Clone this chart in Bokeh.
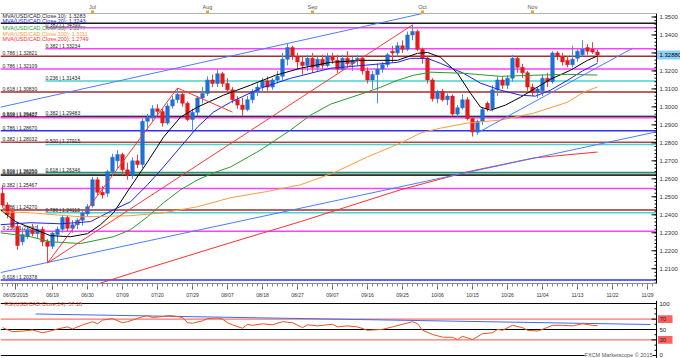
from bokeh.plotting import figure
from bokeh.models import (Range1d, LinearAxis, FixedTicker, ColumnDataSource, Label)
from bokeh.layouts import column
from bokeh.embed import file_html
from bokeh.resources import INLINE
from bokeh.core.properties import value

# ---------------- data ----------------
opens = [1.2520,1.2455,1.2420,1.2335,1.2250,1.2280,1.2315,1.2295,1.2320,1.2250,
         1.2225,1.2290,1.2320,1.2385,1.2325,1.2345,1.2370,1.2405,1.2450,1.2595,
         1.2525,1.2520,1.2640,1.2700,1.2735,1.2650,1.2620,1.2700,1.2680,1.2920,
         1.2940,1.2990,1.2975,1.2910,1.3005,1.3040,1.3070,1.3020,1.2930,1.2970,
         1.3050,1.3075,1.3150,1.3130,1.3185,1.3130,1.3095,1.3040,1.3010,1.2985,
         1.3040,1.3085,1.3110,1.3145,1.3110,1.3150,1.3170,1.3265,1.3330,1.3280,
         1.3250,1.3230,1.3270,1.3220,1.3265,1.3230,1.3280,1.3260,1.3210,1.3270,
         1.3240,1.3260,1.3270,1.3200,1.3150,1.3180,1.3210,1.3235,1.3310,1.3300,
         1.3340,1.3320,1.3400,1.3420,1.3320,1.3270,1.3150,1.3045,1.3085,1.3040,
         1.3060,1.2960,1.2995,1.3040,1.2935,1.2860,1.2920,1.3020,1.2990,1.3095,
         1.3150,1.3120,1.3160,1.3270,1.3220,1.3190,1.3110,1.3080,1.3090,1.3160,
         1.3140,1.3300,1.3280,1.3260,1.3235,1.3270,1.3290,1.3330,1.3320,1.3305]
highs = [1.2565,1.2470,1.2440,1.2360,1.2330,1.2340,1.2350,1.2345,1.2335,1.2265,
         1.2310,1.2335,1.2400,1.2395,1.2370,1.2380,1.2430,1.2460,1.2610,1.2610,
         1.2560,1.2650,1.2740,1.2760,1.2745,1.2690,1.2720,1.2735,1.2935,1.2960,
         1.3010,1.3015,1.2990,1.3020,1.3060,1.3105,1.3080,1.3030,1.2990,1.3060,
         1.3110,1.3170,1.3180,1.3210,1.3195,1.3160,1.3110,1.3060,1.3050,1.3060,
         1.3100,1.3130,1.3160,1.3170,1.3160,1.3200,1.3300,1.3350,1.3340,1.3300,
         1.3280,1.3290,1.3300,1.3280,1.3290,1.3300,1.3300,1.3290,1.3290,1.3310,
         1.3280,1.3290,1.3280,1.3220,1.3200,1.3240,1.3250,1.3300,1.3340,1.3360,
         1.3370,1.3420,1.3456,1.3430,1.3330,1.3280,1.3160,1.3095,1.3100,1.3075,
         1.3070,1.3010,1.3070,1.3055,1.2945,1.2930,1.2995,1.3030,1.3120,1.3170,
         1.3170,1.3175,1.3290,1.3280,1.3240,1.3200,1.3130,1.3110,1.3180,1.3190,
         1.3310,1.3310,1.3300,1.3280,1.3340,1.3320,1.3370,1.3350,1.3360,1.3320]
lows = [1.2440,1.2380,1.2320,1.2205,1.2230,1.2265,1.2280,1.2270,1.2225,1.2132,
        1.2210,1.2250,1.2300,1.2310,1.2300,1.2320,1.2340,1.2390,1.2440,1.2510,
        1.2490,1.2500,1.2620,1.2660,1.2620,1.2595,1.2600,1.2660,1.2660,1.2870,
        1.2920,1.2950,1.2890,1.2900,1.2990,1.3020,1.3000,1.2920,1.2860,1.2950,
        1.3020,1.3060,1.3110,1.3110,1.3110,1.3080,1.3020,1.2990,1.2950,1.2975,
        1.3020,1.3060,1.3080,1.3090,1.3095,1.3130,1.3150,1.3230,1.3260,1.3210,
        1.3180,1.3200,1.3190,1.3200,1.3210,1.3220,1.3240,1.3190,1.3200,1.3220,
        1.3200,1.3230,1.3180,1.3130,1.3100,1.3020,1.3190,1.3220,1.3250,1.3280,
        1.3300,1.3310,1.3370,1.3310,1.3240,1.3130,1.3030,1.3020,1.3030,1.3010,
        1.2950,1.2945,1.2985,1.2925,1.2835,1.2845,1.2900,1.2975,1.2975,1.3060,
        1.3100,1.3100,1.3140,1.3190,1.3160,1.3090,1.3060,1.3050,1.3060,1.3110,
        1.3130,1.3260,1.3230,1.3220,1.3220,1.3250,1.3280,1.3290,1.3295,1.3248]
closes = [1.2455,1.2400,1.2335,1.2230,1.2290,1.2315,1.2295,1.2320,1.2250,1.2225,
          1.2298,1.2320,1.2385,1.2325,1.2345,1.2370,1.2410,1.2445,1.2595,1.2525,
          1.2510,1.2640,1.2720,1.2735,1.2650,1.2620,1.2700,1.2680,1.2920,1.2940,
          1.2990,1.2975,1.2910,1.3005,1.3040,1.3070,1.3020,1.2930,1.2970,1.3050,
          1.3075,1.3150,1.3130,1.3185,1.3130,1.3095,1.3040,1.3010,1.2985,1.3040,
          1.3085,1.3110,1.3145,1.3110,1.3150,1.3170,1.3265,1.3330,1.3280,1.3250,
          1.3230,1.3270,1.3220,1.3265,1.3230,1.3280,1.3260,1.3210,1.3270,1.3240,
          1.3260,1.3270,1.3200,1.3150,1.3180,1.3210,1.3235,1.3290,1.3300,1.3340,
          1.3320,1.3400,1.3420,1.3320,1.3270,1.3150,1.3045,1.3085,1.3040,1.3060,
          1.2960,1.2995,1.3040,1.2935,1.2860,1.2920,1.2985,1.2990,1.3095,1.3150,
          1.3120,1.3160,1.3270,1.3220,1.3190,1.3110,1.3080,1.3100,1.3160,1.3140,
          1.3300,1.3280,1.3250,1.3235,1.3265,1.3310,1.3320,1.3310,1.3305,1.3288]
bar_idx = list(range(len(closes)))

# moving averages (bar index, price)
ma_periods = [10, 20, 55, 100, 200]
ma10_x = [-0.4, 2.6, 5.6, 9.6, 13.6, 17, 19.6, 22.2, 25.6, 29, 32.2, 35.6, 39, 44.2, 49.6, 54.6,
          59.6, 65.6, 72.2, 79, 83, 85, 87.6, 91, 93.6, 95.6, 97.6, 100.6, 103.6, 106.6, 109.6,
          113.6, 117, 119]
ma10_y = [1.2428, 1.2362, 1.2328, 1.2284, 1.2278, 1.2295, 1.2345, 1.2411, 1.2555, 1.2694, 1.2832,
          1.2943, 1.2999, 1.3065, 1.3121, 1.3176, 1.3215, 1.3248, 1.3259, 1.3259, 1.3298, 1.3303,
          1.3276, 1.3187, 1.3076, 1.2999, 1.2982, 1.3010, 1.3054, 1.3104, 1.3154, 1.3204, 1.3259,
          1.3283]
ma20_x = [-0.4, 5.6, 11.6, 17.6, 22.2, 25.6, 29, 32.2, 35.6, 39, 42.2, 45.6, 51.6, 57.6, 65.6,
          72.2, 79, 81.6, 85, 87.6, 92.2, 95.6, 99.6, 103.6, 106.6, 109.6, 113, 116, 119]
ma20_y = [1.2345, 1.2356, 1.2350, 1.2362, 1.2428, 1.2472, 1.2567, 1.2666, 1.2777, 1.2888, 1.2971,
          1.3026, 1.3104, 1.3159, 1.3215, 1.3231, 1.3248, 1.3270, 1.3270, 1.3242, 1.3187, 1.3132,
          1.3093, 1.3065, 1.3060, 1.3093, 1.3148, 1.3200, 1.3243]
ma55_x = [-0.4, 5.6, 9.6, 15.6, 22.2, 25.6, 29, 32.2, 35.6, 39, 42.2, 45.6, 51.6, 57.6, 61.6,
          65.6, 72.2, 75.6, 79, 82.2, 85.6, 92.2, 99.6, 106.2, 113, 119]
ma55_y = [1.2300, 1.2278, 1.2250, 1.2240, 1.2278, 1.2317, 1.2389, 1.2467, 1.2539, 1.2594, 1.2633,
          1.2666, 1.2760, 1.2871, 1.2954, 1.3015, 1.3076, 1.3109, 1.3148, 1.3176, 1.3193, 1.3187,
          1.3170, 1.3176, 1.3181, 1.3177]
ma100_x = [-0.4, 5.6, 15.6, 25.6, 32.2, 39, 45.6, 52.6, 59.6, 66.2, 73, 79.6, 83.6, 87.6, 93,
           99.6, 106.2, 113, 116.2, 119]
ma100_y = [1.2417, 1.2411, 1.2389, 1.2395, 1.2411, 1.2445, 1.2495, 1.2528, 1.2567, 1.2633, 1.2722,
           1.2799, 1.2855, 1.2882, 1.2910, 1.2927, 1.2965, 1.3026, 1.3082, 1.3111]
ma200_x = [15.6, 28.2, 45.6, 59.6, 79.6, 93, 106.2, 119]
ma200_y = [1.1985, 1.2096, 1.2245, 1.2362, 1.2539, 1.2639, 1.2716, 1.2749]

# Fibonacci levels
fib_price = [1.34657, 1.34399, 1.33234, 1.32821, 1.32109, 1.31434, 1.30830, 1.29483, 1.29437,
             1.29402, 1.28670, 1.28032, 1.27915, 1.26346, 1.26250, 1.26200, 1.25467, 1.24270,
             1.24113, 1.23080, 1.20378]
fib_ratio = ["", "0.382", "0.382", "0.786", "0.786", "0.236", "0.618", "0.382", "0.500",
             "0.618", "0.786", "0.382", "0.500", "0.618", "0.500", "0.618", "0.382", "0.786",
             "0.786", "0.236", "0.618"]
fib_start = [-0.4, 8.6, 8.6, -0.4, -0.4, 8.6, -0.4, 8.6, -0.4, -0.4, -0.4, -0.4, 8.6, 8.6,
             -0.4, -0.4, -0.4, -0.4, 8.6, -0.4, -0.4]
fib_color = ["#1a1a1a", "#ff40ff", "#ff40ff", "#9e2f35", "#ff40ff", "#44d4d0", "#9e2f35",
             "#119977", "#5a1010", "#ff40ff", "#2f2fff", "#b04848", "#44d4d0", "#119977",
             "#808080", "#303030", "#ff40ff", "#9e2f35", "#44d4d0", "#ff40ff", "#2f2fff"]

# drawn trend lines (bar index / price)
tl_x0 = [-0.4, -0.4, 95, 9, 9, 35]
tl_y0 = [1.29986, 1.20789, 1.2856, 1.2132, 1.2132, 1.3105]
tl_x1 = [84, 130.6, 126, 35, 82, 46]
tl_y1 = [1.35194, 1.28601, 1.3326, 1.3105, 1.3456, 1.2971]
tl_color = ["#4a7dff", "#4a7dff", "#4a7dff", "#ff3535", "#ff3535", "#ff3535"]

# RSI (bar index, value)
rsi_x = [0, 2, 4, 6, 8, 9, 11, 13, 14, 16, 18, 19, 20, 22, 24, 25, 26, 28, 29, 30, 32, 33, 34,
         36, 37, 38, 40, 41, 43, 44, 45, 46, 48, 49, 50, 52, 54, 56, 58, 60, 61, 63, 66, 67, 69,
         71, 73, 76, 78, 80, 82, 83, 84, 86, 88, 90, 91, 92, 94, 96, 98, 99, 100, 102, 104, 105,
         107, 108, 110, 112, 114, 116, 118, 119]
rsi_y = [53.5, 45.7, 47, 49, 43.7, 45.7, 51, 55, 51, 58.8, 65, 61, 68, 71, 63, 65, 68, 74.5, 76.5,
         73, 75, 76.5, 76.5, 73, 63, 62, 66.7, 71, 72, 70, 63, 59, 52.3, 60, 58, 61, 59, 65, 63,
         53.5, 59, 57, 60, 55, 57, 55, 48.5, 50.3, 55, 60, 65, 61, 48.5, 40.5, 35.3, 35, 30.7, 37,
         30.7, 41.8, 43.7, 50.3, 48.5, 58, 53.5, 48.5, 47, 50.3, 58, 58, 57, 61, 58, 57.2]
rsi_tl_x = [6.6, 129.6]
rsi_tl_y = [79.8, 59.6]
rsi_last = 57.18
rsi_levels = [100, 70, 50, 30, 0]
rsi_level_color = ["#000000", "#ff4d4d", "#000000", "#ff4d4d", "#000000"]

# axis labels
date_tick_idx = [2.6, 10, 17, 24, 31, 38, 45, 52, 59, 66, 73, 80, 87, 94, 101, 108, 115, 122, 129]
date_tick_lab = ["06/05/2015", "06/19", "06/30", "07/09", "07/20", "07/29", "08/07", "08/18",
                 "08/27", "09/07", "09/16", "09/25", "10/06", "10/15", "10/26", "11/04", "11/13",
                 "11/22", "11/29"]
month_idx = [18, 41, 62, 84, 106]
month_lab = ["Jul", "Aug", "Sep", "Oct", "Nov"]
price_ticks = [1.21, 1.22, 1.23, 1.24, 1.25, 1.26, 1.27, 1.28, 1.29, 1.30, 1.31, 1.32, 1.33,
               1.34, 1.35]
last_price = 1.32880

FONT = "Liberation Sans"
UP, DN = "#1f6fd6", "#e31b1b"
X0, X1 = -0.4, 135.6      # whole canvas width
XA = 130.8                # price-axis line
Y0, Y1 = 1.2018, 1.35194

# ---------------- main price panel ----------------
p = figure(width=680, height=300, x_range=Range1d(X0, X1), y_range=Range1d(Y0, Y1),
           title=None, x_axis_location=None, y_axis_location=None, output_backend="svg",
           toolbar_location=None, min_border_left=0, min_border_right=0,
           min_border_top=13, min_border_bottom=16)
p.grid.visible = False
p.outline_line_color = None

fsrc = ColumnDataSource(dict(x0=fib_start, x1=[XA] * len(fib_price), y=fib_price,
                             col=fib_color))
p.segment(x0="x0", y0="y", x1="x1", y1="y", source=fsrc, line_color="col", line_width=1.5)

lab_i = [i for i, r in enumerate(fib_ratio) if r]
flsrc = ColumnDataSource(dict(x=[max(fib_start[i], 0) for i in lab_i],
                              y=[fib_price[i] for i in lab_i],
                              t=["%s | %.5f" % (fib_ratio[i], fib_price[i]) for i in lab_i]))
p.text(x="x", y="y", text="t", source=flsrc, text_font=value(FONT), text_font_size="5px",
       text_color="#222222", text_baseline="bottom")

col = [UP if c >= o else DN for o, c in zip(opens, closes)]
wick = ["#4d8ce6" if c >= o else "#ee4040" for o, c in zip(opens, closes)]
csrc = ColumnDataSource(dict(x=bar_idx, o=opens, h=highs, l=lows, c=closes,
                             top=[max(o, c) for o, c in zip(opens, closes)],
                             bot=[min(o, c) for o, c in zip(opens, closes)], col=col, wk=wick))
p.segment(x0="x", y0="l", x1="x", y1="h", source=csrc, line_color="wk", line_width=1)
p.vbar(x="x", width=0.72, top="top", bottom="bot", source=csrc, fill_color="col",
       line_color="col", line_width=0.5)

ma_x = [ma10_x, ma20_x, ma55_x, ma100_x, ma200_x]
ma_y = [ma10_y, ma20_y, ma55_y, ma100_y, ma200_y]
ma_color = ["#000000", "#2020ee", "#2a9a2a", "#ff9a3c", "#ff3030"]
for xs, ys, c in zip(ma_x, ma_y, ma_color):
    p.line(xs, ys, line_color=c, line_width=1)

for a, b, c, d, cl in zip(tl_x0, tl_y0, tl_x1, tl_y1, tl_color):
    p.line([a, c], [b, d], line_color=cl, line_width=1)

leg_y = [1.35028, 1.34767, 1.34380, 1.34047, 1.33753]
p.text(x=[X0] * 5, y=leg_y,
       text=["MVA(USD/CAD,Close,%d): %.4f" % (n, ys[-1]) for n, ys in zip(ma_periods, ma_y)],
       text_color=["#1a1a40", "#2020ee", "#2a9a2a", "#ff9a3c", "#ff3030"],
       text_font=value(FONT), text_font_size="5.5px", text_baseline="middle", x_offset=2)

# price scale on the right (inside the canvas)
p.segment(x0=[XA], y0=[Y0 - 0.01], x1=[XA], y1=[Y1 + 0.01], line_color="#000000", line_width=1)
p.segment(x0=[XA - 1] * len(price_ticks), y0=price_ticks, x1=[XA] * len(price_ticks),
          y1=price_ticks, line_color="#000000", line_width=1)
minor = [round(1.202 + 0.002 * k, 3) for k in range(76)]
p.segment(x0=[XA - 0.4] * len(minor), y0=minor, x1=[XA] * len(minor), y1=minor,
          line_color="#000000", line_width=1)
shown = [t for t in price_ticks if abs(t - last_price) > 0.004]
p.text(x=[XA] * len(shown), y=shown, text=["%.4f" % t for t in shown], x_offset=3,
       text_font=value(FONT), text_font_size="6px", text_color="#333333",
       text_baseline="middle")
p.quad(left=[XA + 0.1], right=[X1 + 1], bottom=[last_price - 0.0025],
       top=[last_price + 0.0025], fill_color="#8fd0fa", line_color=None)
p.text(x=[XA], y=[last_price], text=["%.5f" % last_price], x_offset=3,
       text_font=value(FONT), text_font_size="6px", text_color="#000000",
       text_baseline="middle")

# axes (date ruler below, months above)
xb = LinearAxis(ticker=FixedTicker(ticks=date_tick_idx, minor_ticks=list(range(0, 131))),
                major_label_overrides={t: l for t, l in zip(date_tick_idx, date_tick_lab)},
                bounds=(X0, XA))
xb.major_tick_in = 0
xb.major_tick_out = 6
xb.minor_tick_in = 0
xb.minor_tick_out = 3
xb.axis_line_color = "#888888"
xb.major_tick_line_color = "#666666"
xb.minor_tick_line_color = "#888888"
xb.major_label_text_font = FONT
xb.major_label_text_font_size = "5px"
xb.major_label_text_color = "#333333"
xb.major_label_standoff = 2
p.add_layout(xb, "below")

xt = LinearAxis(ticker=FixedTicker(ticks=month_idx, minor_ticks=[]),
                major_label_overrides={t: l for t, l in zip(month_idx, month_lab)},
                bounds=(X0, XA))
xt.major_tick_in = 0
xt.major_tick_out = 3
xt.major_tick_line_color = "#f0a030"
xt.major_tick_line_width = 3
xt.minor_tick_line_color = None
xt.axis_line_color = "#b0b0b0"
xt.major_label_text_font = FONT
xt.major_label_text_font_size = "5.5px"
xt.major_label_text_color = "#555555"
xt.major_label_standoff = 1
p.add_layout(xt, "above")

# ---------------- RSI panel ----------------
RY0, RY1 = -5.77, 105.77
r = figure(width=680, height=58, x_range=p.x_range, y_range=Range1d(RY0, RY1),
           title=None, x_axis_location=None, y_axis_location=None, output_backend="svg",
           toolbar_location=None, min_border_left=0, min_border_right=0,
           min_border_top=0, min_border_bottom=0)
r.grid.visible = False
r.outline_line_color = None
r.segment(x0=[X0] * 5, y0=rsi_levels, x1=[XA] * 5, y1=rsi_levels, line_color=rsi_level_color,
          line_width=1)
r.line(rsi_tl_x, rsi_tl_y, line_color="#3a6cf0", line_width=1)
r.line(rsi_x, rsi_y, line_color="#e8541c", line_width=1)

r.segment(x0=[XA], y0=[RY0], x1=[XA], y1=[RY1], line_color="#000000", line_width=1)
r.segment(x0=[XA - 1] * 5, y0=rsi_levels, x1=[XA] * 5, y1=rsi_levels, line_color="#000000")
rminor = [10, 20, 40, 60, 80, 90]
r.segment(x0=[XA - 0.4] * 6, y0=rminor, x1=[XA] * 6, y1=rminor, line_color="#000000")
r.quad(left=[XA + 0.3] * 2, right=[XA + 3.2] * 2, bottom=[62.5, 22.5], top=[77.5, 37.5],
       fill_color="#ff6060", line_color=None)
r.text(x=[XA] * 5, y=rsi_levels, text=[str(v) for v in rsi_levels], x_offset=3,
       text_font=value(FONT), text_font_size="6px", text_color="#222222",
       text_baseline="middle")
r.text(x=[X0], y=[100], text=["RSI(USD/CAD,Close,14): %.2f" % rsi_last], x_offset=4,
       text_font=value(FONT), text_font_size="5.5px", text_color="#e0401a",
       text_baseline="middle")
r.add_layout(Label(x=XA, y=0, text="FXCM Marketscope \u00a9 2015", x_offset=-4,
                   text_font=FONT, text_font_size="5.5px", text_baseline="middle",
                   text_align="right", text_color="#555555", background_fill_color="white"))

layout = column(p, r)
with open("out.html", "w", encoding="utf-8") as f:
    f.write(file_html(layout, INLINE))
